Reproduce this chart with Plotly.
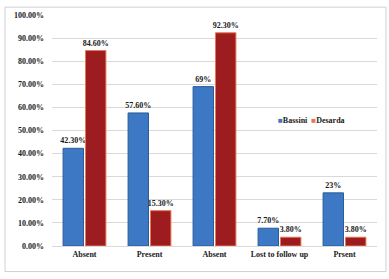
import plotly.graph_objects as go

categories = ["Absent", "Present", "Absent", "Lost to follow up", "Prsent"]
bassini = [0.423, 0.576, 0.69, 0.077, 0.23]
desarda = [0.846, 0.153, 0.923, 0.038, 0.038]
bassini_labels = ["42.30%", "57.60%", "69%", "7.70%", "23%"]
desarda_labels = ["84.60%", "15.30%", "92.30%", "3.80%", "3.80%"]
ytick_vals = [i / 10 for i in range(11)]

FONT = "Liberation Serif"
BLUE = "#3C78C3"
RED = "#9C1C20"
pos = list(range(len(categories)))

fig = go.Figure()
fig.add_trace(go.Bar(
    x=pos, y=bassini, name="Bassini", text=bassini_labels,
    textposition="outside", cliponaxis=False, showlegend=False,
    textfont=dict(family=FONT, size=8, color="#1a1a1a", weight="bold"),
    marker=dict(color=BLUE, line=dict(color="#2A5C9A", width=1)),
))
fig.add_trace(go.Bar(
    x=pos, y=desarda, name="Desarda", text=desarda_labels,
    textposition="outside", cliponaxis=False, showlegend=False,
    textfont=dict(family=FONT, size=8, color="#1a1a1a", weight="bold"),
    marker=dict(color=RED, line=dict(color="#E8784F", width=1)),
))

fig.update_layout(
    width=389, height=279,
    margin=dict(l=52, r=12, t=11, b=33),
    paper_bgcolor="white", plot_bgcolor="white",
    barmode="group", bargap=0.31, bargroupgap=0.09,
    uniformtext=dict(minsize=8, mode="show"),
    font=dict(family=FONT, size=8, color="#1a1a1a", weight="bold"),
    showlegend=False,
    xaxis=dict(
        tickvals=pos, ticktext=categories, range=[-0.5, 4.5],
        showgrid=False, showline=True, linecolor="#d9d9d9", ticks="",
        tickfont=dict(family=FONT, size=8, color="#1a1a1a", weight="bold"),
    ),
    yaxis=dict(
        range=[0, 1.0], tickvals=ytick_vals, tickformat=".2%",
        showgrid=True, gridcolor="#d9d9d9", gridwidth=1, zeroline=False,
        showline=False, ticks="", ticklabelstandoff=7,
        tickfont=dict(family=FONT, size=8, color="#1a1a1a", weight="bold"),
    ),
)

# legend (as text with coloured squares)
fig.add_annotation(
    xref="paper", yref="paper", x=0.69, y=0.545, xanchor="left", yanchor="middle",
    showarrow=False,
    text=(f"<span style='color:{BLUE}'>■</span>Bassini  "
          f"<span style='color:#E8784F'>■</span>Desarda"),
    font=dict(family=FONT, size=8, color="#1a1a1a", weight="bold"),
)

# outer chart border
fig.add_shape(type="rect", xref="paper", yref="paper",
              x0=-47/325, x1=334/325, y0=-26/235, y1=1 + 8/235,
              line=dict(color="#d0d0d0", width=1), fillcolor="rgba(0,0,0,0)", layer="below")

fig.write_html("out.html")
